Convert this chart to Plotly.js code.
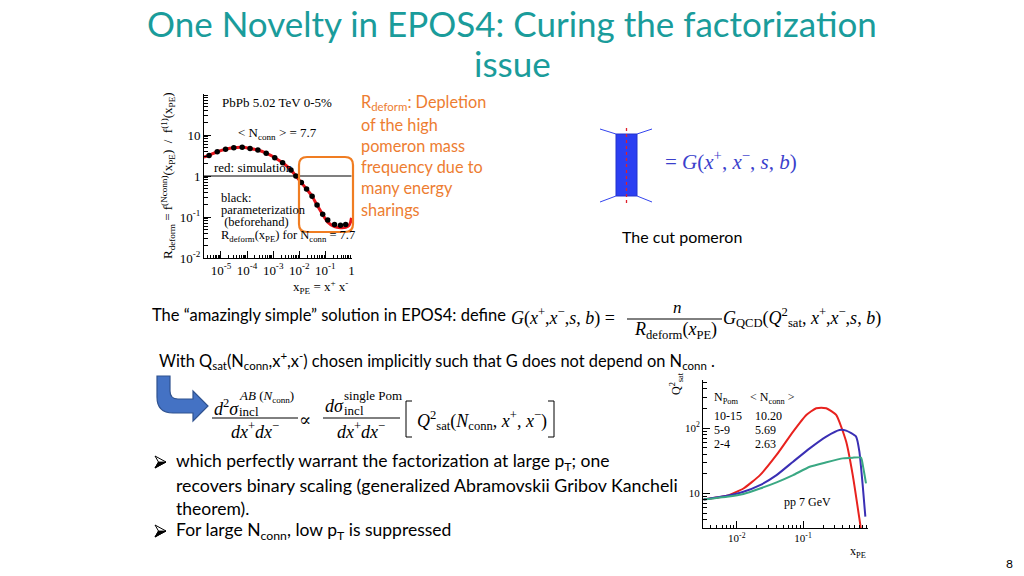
<!DOCTYPE html>
<html><head><meta charset="utf-8">
<script src="https://cdn.plot.ly/plotly-3.0.1.min.js"></script>
<style>html,body{margin:0;padding:0;background:#fff}#chart{width:1024px;height:576px}</style>
</head><body><div id="chart"></div>
<script>
// ---------- Chart 1: R_deform vs x_PE (PbPb 5.02 TeV 0-5%) ----------
const rdefParamX = [3.5e-6, 7.2e-6, 1.5e-5, 3.1e-5, 6.5e-5, 1.3e-4, 2.6e-4, 5.4e-4, 1.15e-3, 2.3e-3, 4.8e-3, 7.4e-3, 1.2e-2, 1.9e-2, 3.1e-2, 4.8e-2, 7.9e-2, 0.123, 0.224, 0.38, 0.60];
const rdefParamY = [3.16, 3.9, 4.5, 4.9, 5.0, 4.7, 4.3, 3.6, 2.8, 2.1, 1.41, 1.0, 0.69, 0.48, 0.32, 0.195, 0.117, 0.085, 0.066, 0.063, 0.066];
const rdefSimX = [2.2e-6, 3.5e-6, 7.2e-6, 1.5e-5, 3.1e-5, 6.5e-5, 1.3e-4, 2.6e-4, 5.4e-4, 1.15e-3, 2.3e-3, 4.8e-3, 7.4e-3, 1.2e-2, 1.9e-2, 3.1e-2, 4.8e-2, 7.9e-2, 0.123, 0.224, 0.38, 0.60, 0.80, 0.92, 1.0];
const rdefSimY = [2.9, 3.2, 3.9, 4.5, 4.9, 5.0, 4.7, 4.3, 3.6, 2.8, 2.1, 1.41, 1.0, 0.69, 0.48, 0.32, 0.195, 0.115, 0.075, 0.058, 0.055, 0.056, 0.062, 0.075, 0.095];
const c1XTickVals = [1e-5, 1e-4, 1e-3, 1e-2, 1e-1, 1];
const c1XTickText = ['10<sup>-5</sup>', '10<sup>-4</sup>', '10<sup>-3</sup>', '10<sup>-2</sup>', '10<sup>-1</sup>', '1'];
const c1YTickVals = [0.01, 0.1, 1, 10];
const c1YTickText = ['10<sup>-2</sup>', '10<sup>-1</sup>', '1', '10'];

// ---------- Chart 2: Q^2_sat vs x_PE (pp 7 GeV) ----------
const qsatRedX = [0.00316, 0.00708, 0.0126, 0.0224, 0.0398, 0.0708, 0.112, 0.158, 0.224, 0.316, 0.447, 0.562, 0.708, 0.76];
const qsatRedY = [8.1, 9.2, 11.9, 19.1, 38.9, 88.9, 160, 203, 203, 160, 62.4, 19.1, 4.1, 2.5];
const qsatBlueX = [0.00316, 0.00708, 0.0126, 0.0224, 0.0398, 0.0708, 0.126, 0.224, 0.355, 0.447, 0.631, 0.708, 0.794, 0.871];
const qsatBlueY = [8.1, 9.2, 10.6, 13.4, 19.1, 30.7, 49.2, 74.5, 94.2, 92.0, 74.5, 43.8, 13.4, 4.4];
const qsatGreenX = [0.00316, 0.00708, 0.0126, 0.0224, 0.0398, 0.0708, 0.126, 0.224, 0.398, 0.562, 0.75, 0.813, 0.891];
const qsatGreenY = [8.1, 8.9, 9.8, 11.9, 14.8, 19.1, 25.7, 30.0, 34.5, 35.4, 35.4, 24.3, 14.3];
const c2XTickVals = [0.01, 0.1];
const c2XTickText = ['10<sup>-2</sup>', '10<sup>-1</sup>'];
const c2YTickVals = [10, 100];
const c2YTickText = ['10', '10<sup>2</sup>'];
const legendNPom = ['10-15', '5-9', '2-4'];
const legendNconn = ['10.20', '5.69', '2.63'];
const seriesColors = ['#e8221e', '#3a2fb4', '#3aa883'];

// ---------- helpers (pixel -> paper) ----------
const W = 1024, H = 576;
const px = x => x / W;
const py = y => 1 - y / H;
function minorVals(lo, hi) { const v = []; for (let e = lo; e < hi; e++) for (let k = 2; k <= 9; k++) v.push(k * Math.pow(10, e)); return v; }

const SANS = 'Lato, "Open Sans", sans-serif';
const SERIF = '"Liberation Serif", "DejaVu Serif", serif';
const TEAL = '#1a9c9b', ORANGE = '#ed7d31', EQBLUE = '#3b3fcc';

const annotations = [];
function txt(text, x, y, o = {}) {
  annotations.push(Object.assign({
    text, x: px(x), y: py(y), xref: 'paper', yref: 'paper', showarrow: false,
    xanchor: o.xa || 'left', yanchor: o.ya || 'middle',
    font: { family: o.family || SANS, size: o.size || 16, color: o.color || '#000' },
    textangle: o.angle || 0
  }, o.extra || {}));
}
const shapes = [];
function line(x0, y0, x1, y1, color, width, dash) {
  shapes.push({ type: 'line', xref: 'paper', yref: 'paper', x0: px(x0), y0: py(y0), x1: px(x1), y1: py(y1), line: { color, width, dash: dash || 'solid' } });
}
function pathPx(cmds, fill, lineColor, lw) {
  let s = '', i = 0;
  while (i < cmds.length) {
    const c = cmds[i++]; s += c + ' ';
    const n = c === 'Q' ? 2 : (c === 'Z' ? 0 : 1);
    for (let k = 0; k < n; k++) { s += px(cmds[i]) + ',' + py(cmds[i + 1]) + ' '; i += 2; }
  }
  shapes.push({ type: 'path', xref: 'paper', yref: 'paper', path: s.trim(), fillcolor: fill || 'rgba(0,0,0,0)', line: { color: lineColor || 'rgba(0,0,0,0)', width: lw || 0 } });
}
function roundRect(x0, y0, x1, y1, r, color, lw) {
  pathPx(['M', x0 + r, y0, 'L', x1 - r, y0, 'Q', x1, y0, x1, y0 + r, 'L', x1, y1 - r, 'Q', x1, y1, x1 - r, y1,
    'L', x0 + r, y1, 'Q', x0, y1, x0, y1 - r, 'L', x0, y0 + r, 'Q', x0, y0, x0 + r, y0, 'Z'], null, color, lw);
}
function bulletArrow(x, y) {
  // 3D arrowhead bullet (➢ style)
  pathPx(['M', x, y - 6, 'L', x + 11, y, 'L', x, y + 6, 'L', x + 3.5, y, 'Z'], '#fff', '#000', 1);
  pathPx(['M', x + 3.5, y, 'L', x + 11, y, 'L', x, y + 6, 'Z'], '#000', '#000', 0.8);
}

// ---------- Title ----------
txt('One Novelty in EPOS4: Curing the factorization', 512, 23, { xa: 'center', size: 35, color: TEAL });
txt('issue', 512, 63, { xa: 'center', size: 35, color: TEAL });

// ---------- Chart 1 texts ----------
const C1 = 12.5;
txt('PbPb 5.02 TeV 0-5%', 220, 103, { family: SERIF, size: 13 });
txt('&lt; N<sub>conn</sub> &gt; = 7.7', 236, 133, { family: SERIF, size: 13 });
txt('red: simulation', 212, 167, { family: SERIF, size: 13 });
txt('black:', 219, 198, { family: SERIF, size: C1 });
txt('parameterization', 219, 210, { family: SERIF, size: C1 });
txt(' (beforehand)', 219, 222, { family: SERIF, size: C1 });
txt('R<sub>deform</sub>(x<sub>PE</sub>) for N<sub>conn</sub> = 7.7', 219, 236, { family: SERIF, size: C1 });
txt('x<sub>PE</sub> = x<sup>+</sup> x<sup>-</sup>', 350, 287, { xa: 'right', family: SERIF, size: 13 });
txt('R<sub>deform</sub> = f<sup>(Nconn)</sup>(x<sub>PE</sub>)  /  f<sup>(1)</sup>(x<sub>PE</sub>)', 168, 176, { xa: 'center', family: SERIF, size: 13, angle: -90 });
roundRect(299, 157, 353, 232, 8, '#f07d22', 2.2);

// ---------- Orange comment ----------
const orangeLines = ['R<sub>deform</sub>: Depletion', 'of the high', 'pomeron mass', 'frequency due to', 'many energy', 'sharings'];
orangeLines.forEach((t, i) => txt(t, 359, 103 + i * 21.2, { size: 16.3, color: ORANGE }));

// ---------- Cut pomeron ----------
line(600, 129, 616, 134, '#3344ee', 1);
line(637, 134, 652, 129, '#3344ee', 1);
line(600, 202, 616, 196, '#3344ee', 1);
line(637, 196, 652, 202, '#3344ee', 1);
shapes.push({ type: 'rect', xref: 'paper', yref: 'paper', x0: px(616), x1: px(637), y0: py(196), y1: py(134), fillcolor: '#2b3ff2', line: { color: '#2233cc', width: 1 } });
line(626.5, 128, 626.5, 203, '#e0202a', 1.3, 'dot');
txt('= <i>G</i>(<i>x</i><sup>+</sup>, <i>x</i><sup>−</sup>, <i>s</i>, <i>b</i>)', 663, 161, { family: SERIF, size: 21, color: EQBLUE });
txt('The cut pomeron', 620, 237, { size: 16 });

// ---------- Equation 1 ----------
txt('The “amazingly simple” solution in EPOS4: define', 150, 315, { size: 16.5 });
txt('<i>G</i>(<i>x</i><sup>+</sup>,<i>x</i><sup>−</sup>,<i>s</i>, <i>b</i>) =', 509, 317, { family: SERIF, size: 18 });
txt('<i>n</i>', 677, 307, { xa: 'center', family: SERIF, size: 17 });
line(627, 319, 722, 319, '#000', 1);
txt('<i>R</i><sub>deform</sub>(<i>x</i><sub>PE</sub>)', 675, 330, { xa: 'center', family: SERIF, size: 18 });
txt('<i>G</i><sub>QCD</sub>(<i>Q</i><sup>2</sup><sub>sat</sub>, <i>x</i><sup>+</sup>,<i>x</i><sup>−</sup>,<i>s</i>, <i>b</i>)', 721, 317, { family: SERIF, size: 18 });

txt('With Q<sub>sat</sub>(N<sub>conn</sub>,x<sup>+</sup>,x<sup>-</sup>) chosen implicitly such that G does not depend on N<sub>conn</sub> .', 157, 360, { size: 16.4 });

// ---------- Arrow ----------
pathPx(['M', 157, 376, 'L', 170, 376, 'L', 170, 391, 'Q', 170, 399, 178, 399, 'L', 193, 399, 'L', 193, 391,
  'L', 208, 406, 'L', 193, 421, 'L', 193, 413, 'L', 173, 413, 'Q', 157, 413, 157, 397, 'Z'], '#4472c4', '#2f528f', 1.2);

// ---------- Equation 2 ----------
txt('<i>d</i><sup>2</sup><i>σ</i>', 212, 407, { family: SERIF, size: 18 });
txt('<i>AB</i> (<i>N</i><sub>conn</sub>)', 237, 396, { family: SERIF, size: 13 });
txt('incl', 237, 411, { family: SERIF, size: 13 });
line(212, 418, 298, 418, '#000', 1);
txt('<i>dx</i><sup>+</sup><i>dx</i><sup>−</sup>', 255, 430, { xa: 'center', family: SERIF, size: 18 });
txt('∝', 305, 420, { xa: 'center', family: SERIF, size: 18 });
txt('<i>dσ</i>', 323, 406, { family: SERIF, size: 18 });
txt('single Pom', 342, 395, { family: SERIF, size: 13 });
txt('incl', 342, 410, { family: SERIF, size: 13 });
line(323, 418, 400, 418, '#000', 1);
txt('<i>dx</i><sup>+</sup><i>dx</i><sup>−</sup>', 361, 430, { xa: 'center', family: SERIF, size: 18 });
pathPx(['M', 412, 401, 'L', 406, 401, 'L', 406, 437, 'L', 412, 437], null, '#000', 1);
pathPx(['M', 548, 401, 'L', 554, 401, 'L', 554, 437, 'L', 548, 437], null, '#000', 1);
txt('<i>Q</i><sup>2</sup><sub>sat</sub>(<i>N</i><sub>conn</sub>, <i>x</i><sup>+</sup>, <i>x</i><sup>−</sup>)', 415, 420, { family: SERIF, size: 18 });

// ---------- Bullets ----------
bulletArrow(155, 462);
txt('which perfectly warrant the factorization at large p<sub>T</sub>; one', 174, 462, { size: 17.5 });
txt('recovers binary scaling (generalized Abramovskii Gribov Kancheli', 174, 485, { size: 17.8 });
txt('theorem).', 174, 508, { size: 17.5 });
bulletArrow(155, 531);
txt('For large N<sub>conn</sub>, low p<sub>T</sub> is suppressed', 174, 531, { size: 17.5 });

// ---------- Chart 2 texts ----------
txt('N<sub>Pom</sub>', 712, 398, { family: SERIF, size: 12 });
txt('&lt; N<sub>conn</sub> &gt;', 748, 398, { family: SERIF, size: 12 });
legendNPom.forEach((t, i) => txt(t, 712, 416 + i * 14, { family: SERIF, size: 12 }));
legendNconn.forEach((t, i) => txt(t, 753, 416 + i * 14, { family: SERIF, size: 12 }));
txt('pp 7 GeV', 782, 502, { family: SERIF, size: 12 });
txt('x<sub>PE</sub>', 868, 552, { xa: 'right', family: SERIF, size: 12 });
txt('Q<sup>2</sup><sub>sat</sub>', 676, 384, { xa: 'center', family: SERIF, size: 12, angle: -90 });

// ---------- Page number ----------
txt('8', 1015, 563, { xa: 'right', size: 12 });

// ---------- Traces ----------
const traces = [
  { x: rdefSimX, y: rdefSimY, type: 'scatter', mode: 'lines', line: { color: '#e8151b', width: 3, shape: 'spline', smoothing: 0.6 }, xaxis: 'x', yaxis: 'y' },
  { x: [2e-6, 1], y: [1, 1], type: 'scatter', mode: 'lines', line: { color: '#000', width: 1.2 }, xaxis: 'x', yaxis: 'y' },
  { x: rdefParamX, y: rdefParamY, type: 'scatter', mode: 'markers', marker: { color: '#000', size: 5.5 }, xaxis: 'x', yaxis: 'y' },
  { x: qsatRedX, y: qsatRedY, type: 'scatter', mode: 'lines', line: { color: seriesColors[0], width: 2, shape: 'spline', smoothing: 0.5 }, xaxis: 'x2', yaxis: 'y2' },
  { x: qsatBlueX, y: qsatBlueY, type: 'scatter', mode: 'lines', line: { color: seriesColors[1], width: 2, shape: 'spline', smoothing: 0.5 }, xaxis: 'x2', yaxis: 'y2' },
  { x: qsatGreenX, y: qsatGreenY, type: 'scatter', mode: 'lines', line: { color: seriesColors[2], width: 2, shape: 'spline', smoothing: 0.4 }, xaxis: 'x2', yaxis: 'y2' }
];

const axBase = {
  type: 'log', showgrid: false, zeroline: false, showline: true, linecolor: '#000', linewidth: 1,
  ticks: 'inside', tickcolor: '#000', tickmode: 'array', fixedrange: true
};
const layout = {
  width: W, height: H, margin: { l: 0, r: 0, t: 0, b: 0 }, paper_bgcolor: '#fff', plot_bgcolor: 'rgba(0,0,0,0)',
  showlegend: false,
  xaxis: Object.assign({}, axBase, {
    domain: [px(204), px(352)], range: [-5.65, 0.02], anchor: 'y', tickvals: c1XTickVals, ticktext: c1XTickText, ticklen: 7,
    minor: { tickmode: 'array', tickvals: minorVals(-6, 0), ticks: 'inside', ticklen: 3.5, tickcolor: '#000' },
    tickfont: { family: SERIF, size: 13, color: '#000' }
  }),
  yaxis: Object.assign({}, axBase, {
    domain: [py(258), py(94)], range: [-2, 2], anchor: 'x', tickvals: c1YTickVals, ticktext: c1YTickText, ticklen: 7,
    minor: { tickmode: 'array', tickvals: minorVals(-2, 2), ticks: 'inside', ticklen: 3.5, tickcolor: '#000' },
    tickfont: { family: SERIF, size: 13, color: '#000' }
  }),
  xaxis2: Object.assign({}, axBase, {
    domain: [px(703), px(868)], range: [-2.51, -0.02], anchor: 'y2', tickvals: c2XTickVals, ticktext: c2XTickText, ticklen: 7,
    minor: { tickmode: 'array', tickvals: minorVals(-3, 0), ticks: 'inside', ticklen: 3.5, tickcolor: '#000' },
    tickfont: { family: SERIF, size: 11, color: '#000' }
  }),
  yaxis2: Object.assign({}, axBase, {
    domain: [py(528), py(380)], range: [0.47, 2.74], anchor: 'x2', tickvals: c2YTickVals, ticktext: c2YTickText, ticklen: 7,
    minor: { tickmode: 'array', tickvals: minorVals(0, 3), ticks: 'inside', ticklen: 3.5, tickcolor: '#000' },
    tickfont: { family: SERIF, size: 11, color: '#000' }
  }),
  annotations, shapes
};
Plotly.newPlot('chart', traces, layout, { staticPlot: true, displayModeBar: false });
</script>
</body></html>
